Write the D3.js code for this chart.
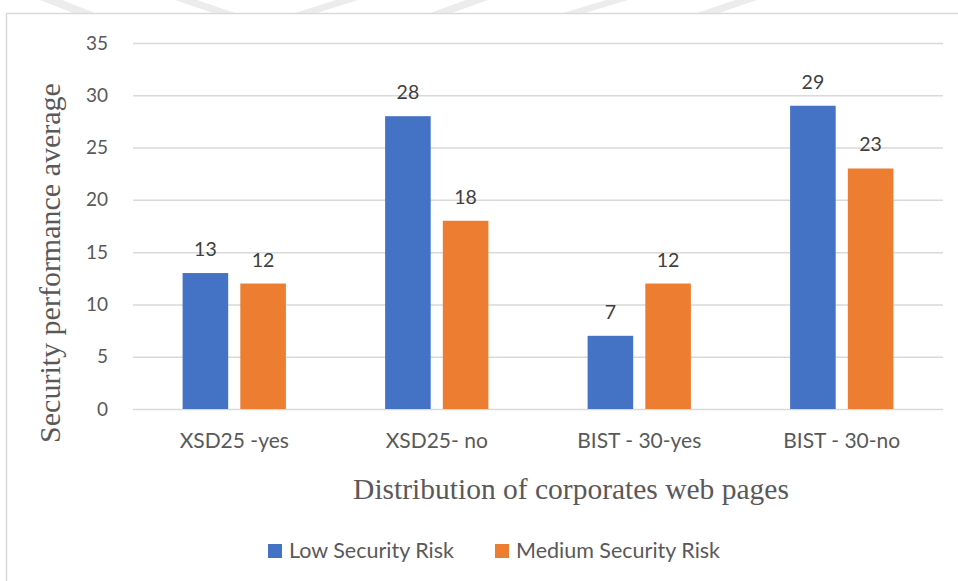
<!DOCTYPE html>
<html><head><meta charset="utf-8">
<script src="https://cdn.jsdelivr.net/npm/d3@7"></script>
<style>body{margin:0;background:#fff}svg{display:block}</style>
</head><body><svg id="c" width="958" height="581"></svg>
<script>
const categories = ["XSD25 -yes", "XSD25- no", "BIST - 30-yes", "BIST - 30-no"];
const seriesNames = ["Low Security Risk", "Medium Security Risk"];
const lowRisk = [13, 28, 7, 29];
const mediumRisk = [12, 18, 12, 23];
const yTicks = [0, 5, 10, 15, 20, 25, 30, 35];
const colors = ["#4472C4", "#ED7D31"];

const svg = d3.select("#c");
const font = "Lato, 'Open Sans', sans-serif";
const serif = "'Liberation Serif', 'Times New Roman', serif";
const txt = "#595959";

// faint watermark chevrons at top
const wm = [[40,95,"\\"],[175,235,"\\"],[295,358,"/"],[430,488,"/"],[563,628,"/"],[697,757,"/"]];
wm.forEach(([a,b,d]) => {
  const w = 22;
  const pts = d === "\\" ? [[a,0],[a+w,0],[b,13],[b-w,13]] : [[b-w,0],[b,0],[a+w,13],[a,13]];
  svg.append("polygon").attr("points", pts.map(p=>p.join(",")).join(" ")).attr("fill", "#ececec");
});

// chart border
svg.append("rect").attr("x", 6.5).attr("y", 13.5).attr("width", 1000).attr("height", 700)
  .attr("fill", "none").attr("stroke", "#d9d9d9").attr("stroke-width", 1.5);

const plot = {left: 133, right: 943, top: 43, bottom: 409};
const y = d3.scaleLinear().domain([0, 35]).range([plot.bottom, plot.top]);
const x0 = d3.scaleBand().domain(categories).range([plot.left, plot.right]).paddingInner(0.49).paddingOuter(0.245);
const x1 = d3.scaleBand().domain(seriesNames).range([0, x0.bandwidth()]).paddingInner(0.21);

// gridlines + y tick labels
const yAxis = d3.axisLeft(y).tickValues(yTicks).tickSize(-(plot.right - plot.left)).tickPadding(25);
const gy = svg.append("g").attr("transform", `translate(${plot.left},0)`).call(yAxis);
gy.select(".domain").remove();
gy.selectAll(".tick line").attr("stroke", "#d9d9d9").attr("stroke-width", 1.5);
gy.selectAll(".tick text").attr("font-family", font).attr("font-size", 19).attr("fill", txt);

// x axis
const xAxis = d3.axisBottom(x0).tickSize(0).tickPadding(24);
const gx = svg.append("g").attr("transform", `translate(0,${plot.bottom})`).call(xAxis);
gx.select(".domain").remove();
gx.selectAll(".tick text").attr("font-family", font).attr("font-size", 21).attr("fill", txt);

// bars
const data = categories.map((c, i) => ({c, vals: [lowRisk[i], mediumRisk[i]]}));
const groups = svg.append("g").selectAll("g").data(data).join("g")
  .attr("transform", d => `translate(${x0(d.c)},0)`);
groups.selectAll("rect").data(d => d.vals.map((v, j) => ({v, s: seriesNames[j], j})))
  .join("rect")
  .attr("x", d => x1(d.s)).attr("width", x1.bandwidth())
  .attr("y", d => y(d.v)).attr("height", d => y(0) - y(d.v))
  .attr("fill", d => colors[d.j]);
groups.selectAll("text").data(d => d.vals.map((v, j) => ({v, s: seriesNames[j]})))
  .join("text")
  .attr("x", d => x1(d.s) + x1.bandwidth() / 2).attr("y", d => y(d.v) - 17)
  .attr("text-anchor", "middle").attr("font-family", font).attr("font-size", 19.5).attr("fill", "#404040")
  .text(d => d.v);

// axis titles
svg.append("text").attr("transform", "translate(60,263) rotate(-90)")
  .attr("text-anchor", "middle").attr("font-family", serif)
  .attr("font-size", 30).attr("fill", txt).text("Security performance average");
svg.append("text").attr("x", 571).attr("y", 499)
  .attr("text-anchor", "middle").attr("font-family", serif)
  .attr("font-size", 29.5).attr("fill", txt).text("Distribution of corporates web pages");

// legend
const legendX = [268, 495];
const lg = svg.append("g").selectAll("g").data(seriesNames).join("g")
  .attr("transform", (d, i) => `translate(${legendX[i]},544)`);
lg.append("rect").attr("width", 14).attr("height", 14).attr("fill", (d, i) => colors[i]);
lg.append("text").attr("x", 21).attr("y", 14).attr("font-family", font).attr("font-size", 21.5)
  .attr("fill", txt).text(d => d);
</script></body></html>
